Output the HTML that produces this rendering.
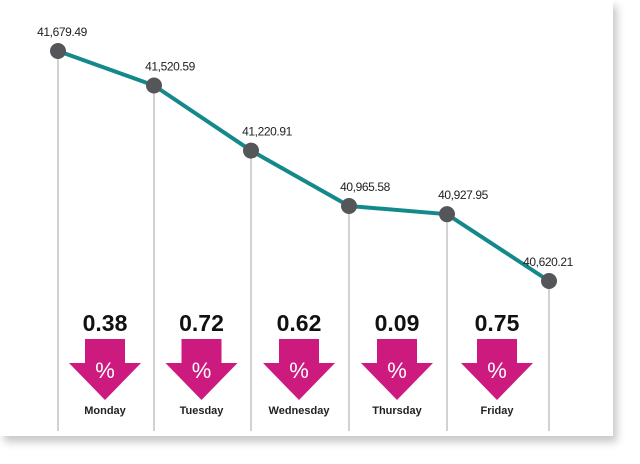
<!DOCTYPE html>
<html><head><meta charset="utf-8"><style>
body{margin:0;width:640px;height:464px;background:#fff;overflow:hidden;font-family:"Liberation Sans",sans-serif}
#card{position:absolute;left:0;top:0;width:613px;height:436px;background:#fff;box-shadow:4px 6px 8px rgba(0,0,0,0.22)}
svg{position:absolute;left:0;top:0}
</style></head><body>
<div id="card"></div>
<svg id="chart" width="640" height="464"></svg>
<script>
const closes=[41679.49,41520.59,41220.91,40965.58,40927.95,40620.21];
const closeLabels=["41,679.49","41,520.59","41,220.91","40,965.58","40,927.95","40,620.21"];
const days=["Monday","Tuesday","Wednesday","Thursday","Friday"];
const pctChanges=["0.38","0.72","0.62","0.09","0.75"];
const NS="http://www.w3.org/2000/svg";
const svg=document.getElementById('chart');
const xs=[58,154,251,349,447,549];
function x(i){return xs[i];}
function y(v){return 51+(41679.49-v)*(230/1059.28);}
function mk(t,a){const e=document.createElementNS(NS,t);for(const k in a)e.setAttribute(k,a[k]);svg.appendChild(e);return e;}
closes.forEach((v,i)=>{
  const l=mk('line',{x1:x(i),x2:x(i),y1:y(v),y2:431,stroke:'#b5b5b5','stroke-width':1.2});
  
  
});
let d=closes.map((v,i)=>(i?'L':'M')+x(i)+','+y(v)).join(' ');
const p=mk('path',{d:d,fill:'none',stroke:'#13898c','stroke-width':4,'stroke-linejoin':'round'});


closes.forEach((v,i)=>{
  const c=mk('circle',{cx:x(i),cy:y(v),r:8,fill:'#555659'});
  
  
  const dx=i==0?4:(i==5?-1:16);
  const t=mk('text',{x:x(i)+dx,y:y(v)-15,'text-anchor':'middle','font-size':12,'letter-spacing':'-0.4',fill:'#222'});
  t.textContent=closeLabels[i];
  
  
});
days.forEach((dname,i)=>{
  const cx=(x(i)+x(i+1))/2-1;
  const v=mk('text',{x:cx,y:331,'text-anchor':'middle','font-size':23,'font-weight':'bold',fill:'#111'});
  v.textContent=pctChanges[i];
  
  
  const a=mk('polygon',{points:`${cx-20},339 ${cx+20},339 ${cx+20},363 ${cx+36},363 ${cx},400 ${cx-36},363 ${cx-20},363`,fill:'#cc1a7f'});
  
  
  const pc=mk('text',{x:cx,y:378,'text-anchor':'middle','font-size':22,fill:'#fff'});
  pc.textContent='%';
  
  
  const dl=mk('text',{x:cx,y:414,'text-anchor':'middle','font-size':11,'font-weight':'bold',fill:'#222'});
  dl.textContent=dname;
  
  
});
</script>
</body></html>
